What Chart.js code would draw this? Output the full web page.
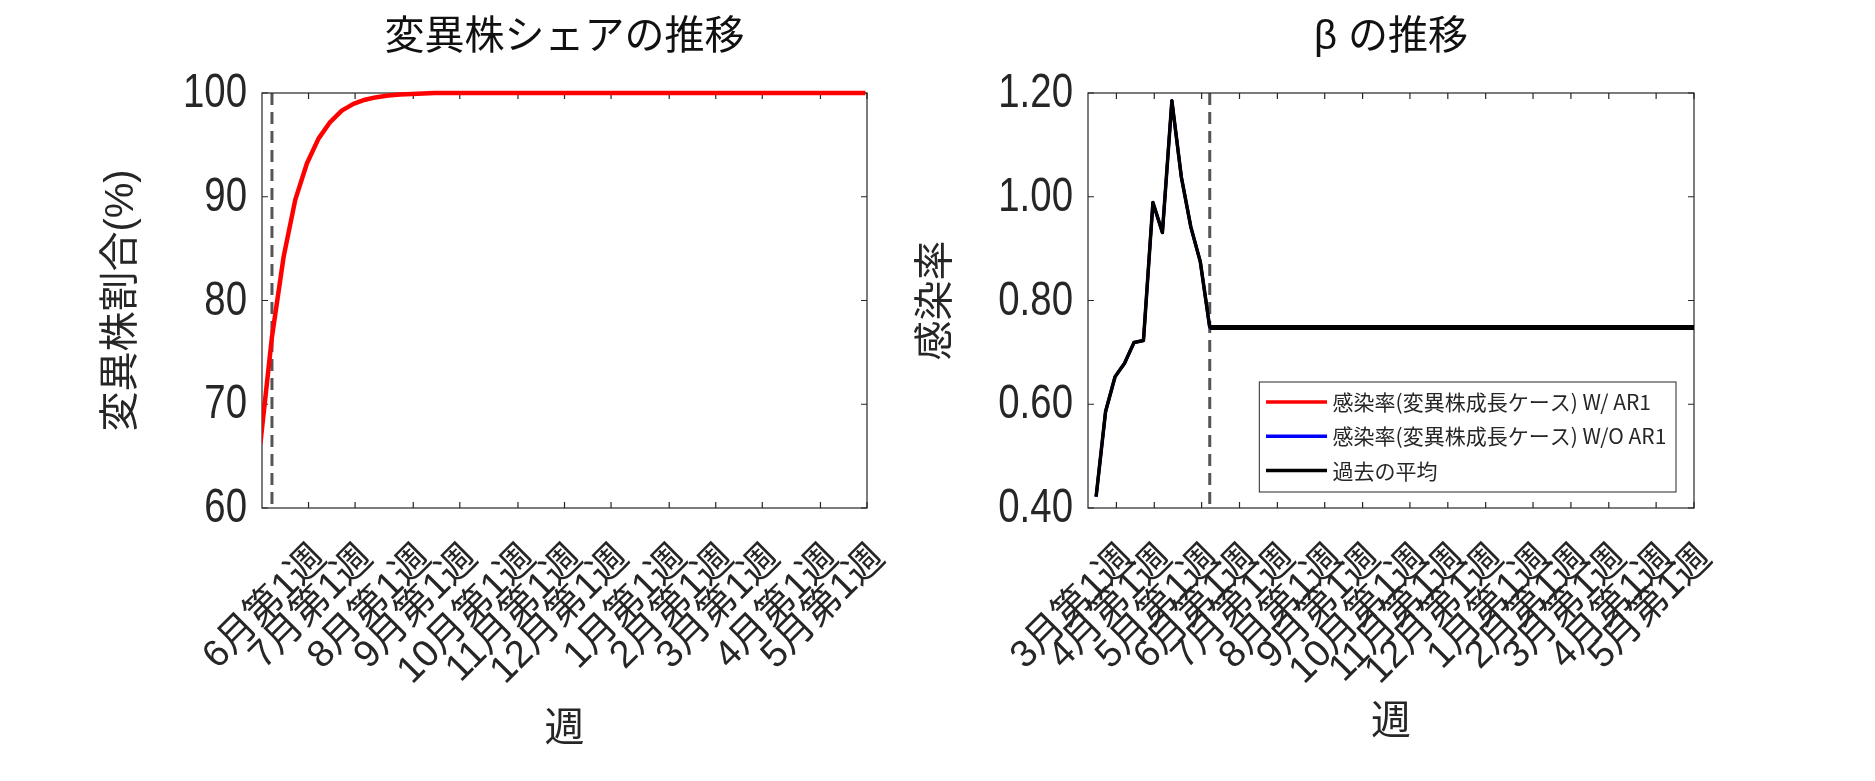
<!DOCTYPE html>
<html>
<head>
<meta charset="utf-8">
<script src="https://cdn.jsdelivr.net/npm/chart.js@4.4.0/dist/chart.umd.min.js"></script>
<style>
    html, body { margin: 0; padding: 0; background: #fff; }
    body { width: 1875px; height: 781px; position: relative; overflow: hidden; }
    #shareChart { position: absolute; left: 0; top: 0; width: 940px; height: 781px; }
    #betaChart { position: absolute; left: 880px; top: 0; width: 995px; height: 781px; }
</style>
</head>
<body>
<canvas id="shareChart" width="940" height="781"></canvas>
<canvas id="betaChart" width="995" height="781"></canvas>
<script>
// x values are days, counted from the left edge of the β chart
var betaTickDays = [21, 49, 84, 112, 140, 175, 203, 238, 266, 294, 329, 357, 385, 420, 448];
var betaTickLabels = ['3月第1週', '4月第1週', '5月第1週', '6月第1週', '7月第1週', '8月第1週', '9月第1週',
    '10月第1週', '11月第1週', '12月第1週', '1月第1週', '2月第1週', '3月第1週', '4月第1週', '5月第1週'];
var shareTickDays = [112, 140, 175, 203, 238, 266, 294, 329, 357, 385, 420, 448];
var shareTickLabels = ['6月第1週', '7月第1週', '8月第1週', '9月第1週', '10月第1週', '11月第1週',
    '12月第1週', '1月第1週', '2月第1週', '3月第1週', '4月第1週', '5月第1週'];
var nowDay = 90;

// variant share (%)
var shareDays = [83, 90, 97, 104, 111, 118, 125, 132, 139, 146, 153, 160, 167, 174, 181, 188, 195, 202,
    209, 216, 223, 230, 237, 244, 251, 258, 265, 272, 279, 286, 293, 300, 307, 314, 321, 328, 335,
    342, 349, 356, 363, 370, 377, 384, 391, 398, 405, 412, 419, 426, 433, 440, 447];
var shareValues = [66.2, 76.5, 84.2, 89.7, 93.2, 95.6, 97.2, 98.3, 98.95, 99.35, 99.6, 99.75, 99.85, 99.9, 99.95,
    100, 100, 100, 100, 100, 100, 100, 100, 100, 100, 100, 100, 100, 100, 100, 100, 100, 100, 100, 100, 100, 100,
    100, 100, 100, 100, 100, 100, 100, 100, 100, 100, 100, 100, 100, 100, 100, 100];

// beta
var betaDays = [6, 13, 20, 27, 34, 41, 48, 55, 62, 69, 76, 83, 90];
var betaValues = [0.422, 0.586, 0.653, 0.679, 0.719, 0.723, 0.989, 0.931, 1.185, 1.038, 0.942, 0.875, 0.748];
var projDays = [90, 448];
var projWithAR1 = [0.748, 0.748];
var projWithoutAR1 = [0.748, 0.748];
var pastMean = [0.748, 0.748];

var axisColor = '#262626';
var numFont = "'Liberation Sans', 'Noto Sans CJK JP', sans-serif";
var jpFont = "'Liberation Sans', 'Noto Sans CJK JP', sans-serif";

function toPoints(days, values) {
    return days.map(function (d, i) {
        return { x: d, y: values[i] };
    });
}

// box, inward ticks and the dashed "now" line
var framePlugin = {
    id: 'frame',
    beforeDatasetsDraw: function (chart) {
        var ctx = chart.ctx, a = chart.chartArea;
        var xs = chart.scales.x, ys = chart.scales.y;
        ctx.save();
        var nx = xs.getPixelForValue(nowDay);
        ctx.strokeStyle = '#555555';
        ctx.lineWidth = 3;
        ctx.setLineDash([12, 7]);
        ctx.beginPath();
        ctx.moveTo(nx, a.top);
        ctx.lineTo(nx, a.bottom);
        ctx.stroke();
        ctx.setLineDash([]);

        ctx.strokeStyle = axisColor;
        ctx.lineWidth = 1.2;
        ctx.strokeRect(a.left, a.top, a.right - a.left, a.bottom - a.top);
        ctx.beginPath();
        xs.ticks.forEach(function (t) {
            var px = xs.getPixelForValue(t.value);
            ctx.moveTo(px, a.bottom);
            ctx.lineTo(px, a.bottom - 6);
            ctx.moveTo(px, a.top);
            ctx.lineTo(px, a.top + 6);
        });
        ys.ticks.forEach(function (t) {
            var py = ys.getPixelForValue(t.value);
            ctx.moveTo(a.left, py);
            ctx.lineTo(a.left + 6, py);
            ctx.moveTo(a.right, py);
            ctx.lineTo(a.right - 6, py);
        });
        ctx.stroke();
        ctx.restore();
    },
    // y tick labels in a condensed face, like the original figure
    afterDraw: function (chart) {
        var ctx = chart.ctx, ys = chart.scales.y;
        ctx.save();
        ctx.font = '48px ' + numFont;
        ctx.fillStyle = axisColor;
        ctx.textAlign = 'right';
        ctx.textBaseline = 'middle';
        ys.ticks.forEach(function (t) {
            ctx.save();
            ctx.translate(chart.chartArea.left - 15, ys.getPixelForValue(t.value) + 1);
            ctx.scale(0.8, 1);
            ctx.fillText(t.label, 0, 0);
            ctx.restore();
        });
        ctx.restore();
    }
};

var legendPlugin = {
    id: 'boxLegend',
    afterDatasetsDraw: function (chart) {
        var ctx = chart.ctx, a = chart.chartArea;
        var items = chart.data.datasets.filter(function (ds) { return ds.label; });
        ctx.save();
        ctx.font = "21px 'Noto Sans CJK JP', sans-serif";
        var textW = 0;
        items.forEach(function (ds) {
            textW = Math.max(textW, ctx.measureText(ds.label).width);
        });
        var w = 6.7 + 61 + 5.6 + textW + 9.7, h = 110;
        var left = a.right - 18 - w, top = a.bottom - 16 - h;
        ctx.fillStyle = '#fff';
        ctx.fillRect(left, top, w, h);
        ctx.strokeStyle = axisColor;
        ctx.lineWidth = 1;
        ctx.strokeRect(left, top, w, h);
        items.forEach(function (ds, i) {
            var cy = top + 20 + i * 34.3;
            ctx.strokeStyle = ds.borderColor;
            ctx.lineWidth = 3.5;
            ctx.beginPath();
            ctx.moveTo(left + 6.7, cy);
            ctx.lineTo(left + 67.7, cy);
            ctx.stroke();
            ctx.fillStyle = axisColor;
            ctx.textBaseline = 'middle';
            ctx.fillText(ds.label, left + 73.3, cy);
        });
        ctx.restore();
    }
};

function xAxis(min, tickDays, tickLabels, titlePad) {
    return {
        type: 'linear',
        min: min,
        max: 448,
        afterBuildTicks: function (scale) {
            scale.ticks = tickDays.map(function (d) { return { value: d }; });
        },
        afterFit: function (scale) {
            scale.height = 273;
        },
        grid: { display: false },
        border: { display: false },
        ticks: {
            autoSkip: false,
            minRotation: 45,
            maxRotation: 45,
            padding: 20,
            labelOffset: 12,
            color: axisColor,
            font: { family: numFont, size: 38 },
            callback: function (value) {
                var i = tickDays.indexOf(value);
                return i >= 0 ? tickLabels[i] : '';
            }
        },
        title: {
            display: true,
            text: '週',
            color: axisColor,
            font: { family: jpFont, size: 40 },
            padding: { top: 0, bottom: titlePad }
        }
    };
}

function yAxis(min, max, step, width, title, titlePad, fmt) {
    return {
        min: min,
        max: max,
        afterFit: function (scale) { scale.width = width; },
        grid: { display: false },
        border: { display: false },
        ticks: {
            display: false,
            stepSize: step,
            callback: fmt
        },
        title: {
            display: true,
            text: title,
            color: axisColor,
            font: { family: jpFont, size: 40 },
            padding: { top: titlePad, bottom: 0 }
        }
    };
}

function titleOpts(text) {
    return {
        display: true,
        text: text,
        fullSize: false,
        color: '#111',
        font: { family: jpFont, size: 40, weight: 'normal' },
        padding: { top: 14, bottom: 31 }
    };
}

var lineClip = { left: 0, top: 5, right: 5, bottom: 5 };

new Chart(document.getElementById('shareChart'), {
    type: 'line',
    data: {
        datasets: [{
            label: '変異株割合',
            data: toPoints(shareDays, shareValues),
            borderColor: '#ff0000',
            borderWidth: 4.5,
            pointRadius: 0,
            tension: 0,
            borderJoinStyle: 'round',
            clip: lineClip
        }]
    },
    options: {
        responsive: false,
        devicePixelRatio: 1,
        animation: false,
        layout: { padding: { left: 0, right: 73, top: 0, bottom: 0 } },
        plugins: {
            legend: { display: false },
            tooltip: { enabled: false },
            title: titleOpts('変異株シェアの推移')
        },
        scales: {
            x: xAxis(84, shareTickDays, shareTickLabels, 27),
            y: yAxis(60, 100, 10, 262, '変異株割合(%)', 98, function (v) { return String(v); })
        }
    },
    plugins: [framePlugin]
});

new Chart(document.getElementById('betaChart'), {
    type: 'line',
    data: {
        datasets: [{
            label: '感染率(変異株成長ケース) W/ AR1',
            data: toPoints(betaDays, betaValues).concat(toPoints(projDays, projWithAR1)),
            borderColor: '#ff0000',
            borderWidth: 3,
            order: 3
        }, {
            label: '感染率(変異株成長ケース) W/O AR1',
            data: toPoints(betaDays, betaValues).concat(toPoints(projDays, projWithoutAR1)),
            borderColor: '#0000ff',
            borderWidth: 3,
            order: 2
        }, {
            label: '過去の平均',
            data: toPoints(projDays, pastMean),
            borderColor: '#000000',
            borderWidth: 5,
            order: 1
        }, {
            label: '',
            data: toPoints(betaDays, betaValues),
            borderColor: '#000000',
            borderWidth: 3.5,
            order: 0
        }]
    },
    options: {
        responsive: false,
        devicePixelRatio: 1,
        animation: false,
        layout: { padding: { left: 0, right: 181, top: 0, bottom: 0 } },
        elements: {
            line: { tension: 0, borderJoinStyle: 'round' },
            point: { radius: 0 }
        },
        datasets: { line: { clip: lineClip } },
        plugins: {
            legend: { display: false },
            tooltip: { enabled: false },
            title: titleOpts('β の推移')
        },
        scales: {
            x: xAxis(0, betaTickDays, betaTickLabels, 34),
            y: yAxis(0.4, 1.2, 0.2, 208, '感染率', 33, function (v) { return v.toFixed(2); })
        }
    },
    plugins: [framePlugin, legendPlugin]
});
</script>
</body>
</html>
